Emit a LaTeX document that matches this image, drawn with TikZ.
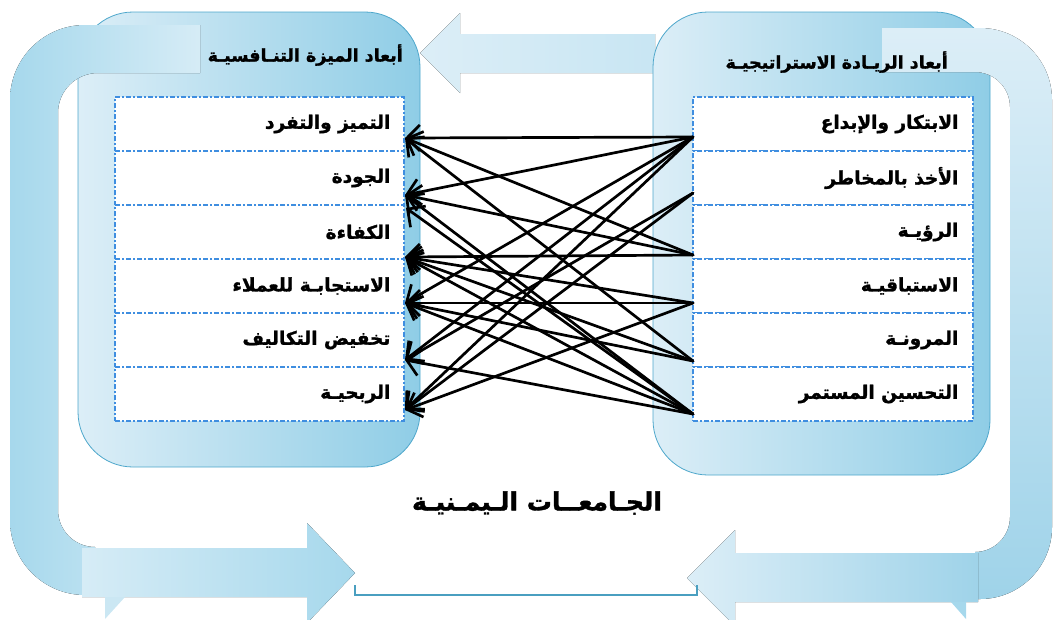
\documentclass[tikz,border=0pt]{standalone}
\usepackage{fontspec}
\newfontfamily\arabicfont[Script=Arabic, BoldFeatures={FakeBold=1.5}]{DejaVu Sans}
\TeXXeTstate=1
\usetikzlibrary{arrows.meta}
\definecolor{boxL}{HTML}{DCEEF7}
\definecolor{boxR}{HTML}{8FCDE6}
\definecolor{boxedge}{HTML}{4EA7CB}
\definecolor{tabedge}{HTML}{3F8EE0}
\definecolor{bracketc}{HTML}{4A9FC0}
\definecolor{bandD}{HTML}{A6D8EC}
\definecolor{bandL}{HTML}{D6ECF6}
\definecolor{bandT}{HTML}{DCEEF7}
\definecolor{bandB}{HTML}{9FD3E9}
\definecolor{triC}{HTML}{CBE7F3}
\newcommand{\artxt}[1]{\beginR #1\endR}
\begin{document}
\begin{tikzpicture}[x=1pt,y=-1pt,
  panel/.style={draw=boxedge, line width=0.8pt, rounded corners=55pt, left color=boxL, right color=boxR},
  cell/.style={draw=tabedge, line width=1.2pt, dash pattern=on 5pt off 2pt on 2pt off 2pt, fill=white, inner sep=0pt, minimum height=54pt},
  lcell/.style={cell, minimum width=289pt},
  rcell/.style={cell, minimum width=280pt},
  lbl/.style={anchor=east, inner sep=0pt, font=\arabicfont\bfseries\fontsize{18.5}{20}\selectfont},
  head/.style={anchor=east, inner sep=0pt, font=\arabicfont\bfseries\fontsize{17.5}{20}\selectfont},
  ttl/.style={inner sep=0pt, font=\arabicfont\bfseries\fontsize{25}{28}\selectfont},
  conn/.style={line width=2.7pt, line cap=round, line join=round, -{Straight Barb[length=13pt,width=26pt]}}
]
\useasboundingbox (0,0) rectangle (1056,619);
\clip (0,0) rectangle (1056,619);

% top middle arrow (behind panels)
\fill[left color=bandT, right color=bandL!75!bandB] (655,34) -- (460,34) -- (460,13) -- (420,53) -- (460,93) -- (460,73) -- (655,73) -- cycle;

% panels
\path[panel] (78,12) rectangle (420,467);
\path[panel] (653,12) rectangle (990,475);

% left U band
\fill[left color=bandD, right color=bandL]
  (200,25) -- (85,25) .. controls (43.6,25) and (10,58.6) .. (10,100)
  -- (10,520) .. controls (10,561.4) and (43.6,595) .. (85,595)
  -- (95,595) -- (95,547) .. controls (74.6,547) and (58,530.4) .. (58,510)
  -- (58,113) .. controls (58,90.9) and (75.9,73) .. (98,73)
  -- (200,73) -- cycle;
% right U band
\fill[top color=bandT, bottom color=bandB]
  (882,28) -- (980,28) .. controls (1019.8,28) and (1052,60.2) .. (1052,100)
  -- (1052,527) .. controls (1052,566.8) and (1019.8,599) .. (980,599)
  -- (975,599) -- (975,552) .. controls (994.3,552) and (1010,536.3) .. (1010,517)
  -- (1010,107) .. controls (1010,87.7) and (994.3,72) .. (975,72)
  -- (882,72) -- cycle;

% bottom arrows
\fill[left color=bandL, right color=bandD] (82,548) -- (307,548) -- (307,523) -- (355,573) -- (307,623) -- (307,597) -- (82,597) -- cycle;
\fill[left color=bandT, right color=bandB] (978,553) -- (735,553) -- (735,530) -- (687,578) -- (735,626) -- (735,602) -- (978,602) -- cycle;
\fill[triC] (105,597) -- (125,597) -- (105,619) -- cycle;
\fill[bandD] (951,602) -- (966,602) -- (966,619) -- cycle;

% bracket
\coordinate (bl) at (355,585);
\coordinate (br) at (697,585);
\draw[bracketc, line width=1.1pt] (bl) -- ++(0,10) -| (br);

% headers
\node[head] (hl) at (403,55) {\artxt{أبعاد الميزة التنـافسيـة}};
\node[head] (hr) at (948,62) {\artxt{أبعاد الريـادة الاستراتيجيـة}};

% left table
\node[lcell] (a1) at (259.5,124) {};
\node[lcell] (a2) at (259.5,178) {};
\node[lcell] (a3) at (259.5,232) {};
\node[lcell] (a4) at (259.5,286) {};
\node[lcell] (a5) at (259.5,340) {};
\node[lcell] (a6) at (259.5,394) {};
\node[lbl] (ta1) at ([xshift=-14pt]a1.east) {\artxt{التميز والتفرد}};
\node[lbl] (ta2) at ([xshift=-14pt]a2.east) {\artxt{الجودة}};
\node[lbl] (ta3) at ([xshift=-14pt]a3.east) {\artxt{الكفاءة}};
\node[lbl] (ta4) at ([xshift=-14pt]a4.east) {\artxt{الاستجابـة للعملاء}};
\node[lbl] (ta5) at ([xshift=-14pt]a5.east) {\artxt{تخفيض التكاليف}};
\node[lbl] (ta6) at ([xshift=-14pt]a6.east) {\artxt{الربحيـة}};

% right table
\node[rcell] (b1) at (833,124) {};
\node[rcell] (b2) at (833,178) {};
\node[rcell] (b3) at (833,232) {};
\node[rcell] (b4) at (833,286) {};
\node[rcell] (b5) at (833,340) {};
\node[rcell] (b6) at (833,394) {};
\node[lbl] (tb1) at ([xshift=-15pt]b1.east) {\artxt{الابتكار والإبداع}};
\node[lbl] (tb2) at ([xshift=-15pt]b2.east) {\artxt{الأخذ بالمخاطر}};
\node[lbl] (tb3) at ([xshift=-15pt]b3.east) {\artxt{الرؤيـة}};
\node[lbl] (tb4) at ([xshift=-15pt]b4.east) {\artxt{الاستباقيـة}};
\node[lbl] (tb5) at ([xshift=-15pt]b5.east) {\artxt{المرونـة}};
\node[lbl] (tb6) at ([xshift=-15pt]b6.east) {\artxt{التحسين المستمر}};

% title
\node[ttl] (title) at (537,503) {\artxt{الجـامعــات الـيمـنيـة}};

% connector end points
\coordinate (R1) at (693,137);
\coordinate (R2) at (693,193);
\coordinate (R3) at (693,255);
\coordinate (R4) at (693,303);
\coordinate (R5) at (693,361);
\coordinate (R6) at (693,414);
\coordinate (La) at (405,138);
\coordinate (Lb) at (405,195);
\coordinate (Lc) at (406,208);
\coordinate (Ld) at (405,257);
\coordinate (Le) at (405,303);
\coordinate (Lf) at (405,360);
\coordinate (Lg) at (405,410);

\foreach \s/\t in {R1/La,R1/Lb,R1/Le,R1/Lf,R1/Lg,
                   R2/Lf,R2/Lg,
                   R3/La,R3/Lb,R3/Ld,
                   R4/Ld,R4/Le,R4/Lg,
                   R5/La,R5/Ld,R5/Le,
                   R6/Lb,R6/Lc,R6/Ld,R6/Le,R6/Lf}
  \draw[conn] (\s) -- (\t);
\end{tikzpicture}
\end{document}
